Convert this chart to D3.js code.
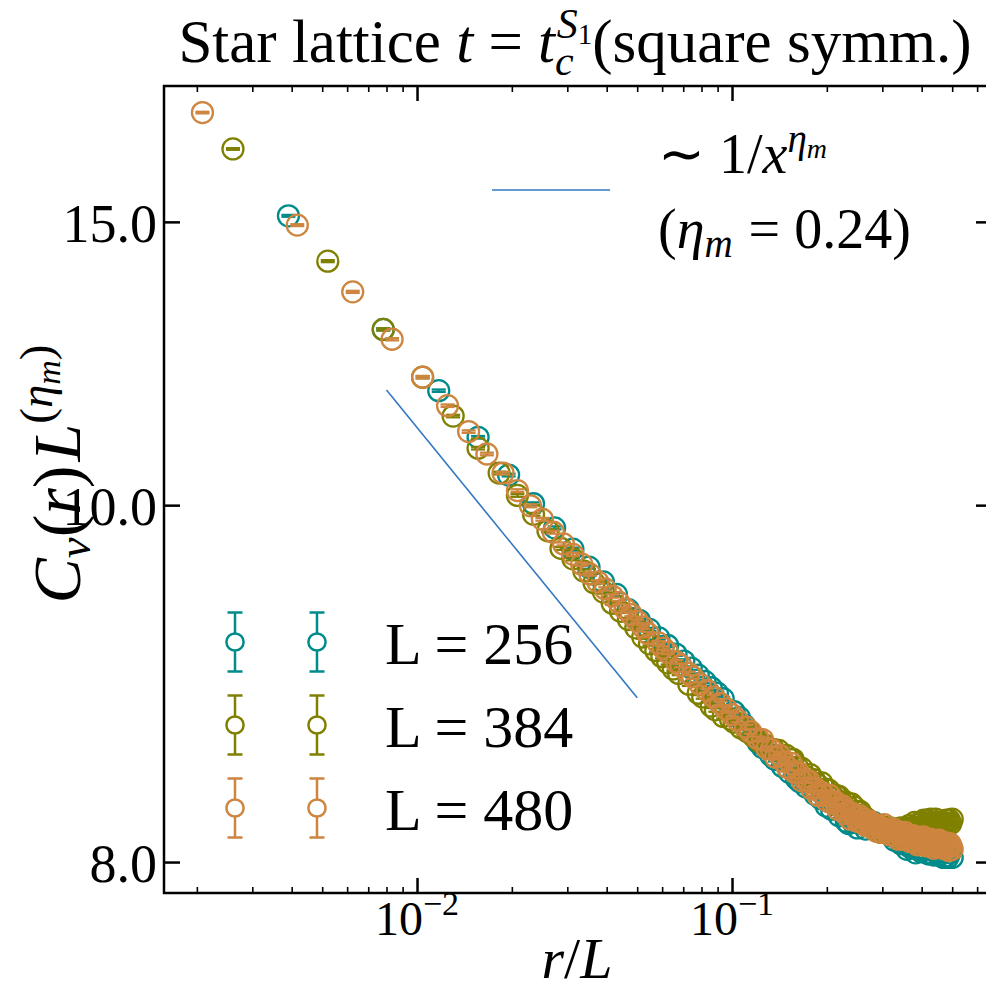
<!DOCTYPE html>
<html><head><meta charset="utf-8">
<script src="https://cdn.jsdelivr.net/npm/d3@7"></script>
<style>
body{margin:0;background:#fff}
svg{display:block}
text{font-family:'Liberation Serif','Times New Roman',serif;fill:#000}
</style>
</head><body>
<svg id="c" width="986" height="992"></svg>
<script>
// ---------------- data ----------------
const sizes = [256, 384, 480];
// L = 256 : distance r and C_v(r) L^eta
const r256 = [1,2,3,4,5,6,7,8,9,10,11,12,13,14,15,16,17,18,19,20,21,22,23,24,26,27,28,29,31,32,34,35,37,39,41,42,44,47,49,51,53,56,59]
  .concat(d3.range(60, 129, 2));
const y256 = [15.13,12.86,11.78,11.02,10.44,10.02,9.68,9.39,9.15,8.96,8.80,8.61,8.48,8.37,8.27,8.18,8.08,8.00,7.92,7.84,7.77,7.70,7.64,7.58,
  7.44,7.38,7.30,7.24,7.12,7.07,6.99,6.95,6.88,6.82,6.76,6.73,6.68,6.61,6.57,6.50,6.47,6.41,6.36,
  6.34,6.35,6.30,6.34,6.29,6.32,6.35,6.30,6.31,6.27,6.29,6.23,6.19,6.21,6.16,6.17,6.11,6.13,6.14,6.08,6.12,
  6.09,6.12,6.08,6.07,6.11,6.06,6.08,6.06,6.09,6.04,6.05,6.04,6.08,6.04];
// L = 384
const r384 = [1,2,3,4,5,6,7,8,9,10,11,12,13,14,15,16,17,18,19,20,21,22,23,24,25,26,28,30,31,33,34,36,38,39,41,43,45,47,49,52,54,57,59]
  .concat(d3.range(60, 193, 2));
const y384 = [16.65,14.18,12.86,12.01,11.36,10.85,10.47,10.14,9.87,9.64,9.40,9.26,9.10,8.95,8.83,8.69,8.59,8.49,8.39,8.28,
  8.20,8.12,8.05,7.98,7.91,7.86,7.74,7.64,7.60,7.50,7.46,7.39,7.36,7.33,7.27,7.23,7.18,7.13,7.09,7.05,7.04,6.99,6.95,
  6.95,6.87,6.86,6.78,6.80,6.75,6.70,6.72,6.66,6.65,6.60,6.60,6.59,6.53,6.54,6.49,6.52,6.49,6.45,6.45,6.40,
  6.39,6.33,6.34,6.34,6.29,6.31,6.26,6.31,6.28,6.25,6.30,6.25,6.26,6.25,6.28,6.30,6.27,6.29,6.25,6.32,
  6.30,6.29,6.35,6.30,6.34,6.31,6.35,6.37,6.34,6.37,6.32,6.38,6.35,6.32,6.38,6.33,6.35,6.35,6.32,6.35,
  6.34,6.37,6.34,6.37,6.34,6.38];
// L = 480
const r480 = [1,2,3,4,5,6,7,8,9,10,11,12,13,14,15,16,17,18,19,20,21,22,23,24,25,26,28,29,30,32,33,35,36,38,40,42,44,46,48,50,53,55,58]
  .concat(d3.range(60, 241, 2));
const y480 = [17.54,14.93,13.57,12.68,12.01,11.53,11.11,10.76,10.47,10.21,9.99,9.80,9.62,9.46,9.32,9.19,9.06,8.96,8.87,8.78,
  8.70,8.62,8.55,8.47,8.40,8.32,8.21,8.15,8.10,7.99,7.95,7.86,7.82,7.74,7.67,7.60,7.53,7.47,7.41,7.35,7.28,7.23,7.16,
  7.15,7.06,7.05,6.97,6.99,6.93,6.87,6.91,6.82,6.82,6.74,6.75,6.74,6.66,6.67,6.60,6.63,6.60,6.55,6.60,6.53,
  6.54,6.47,6.49,6.50,6.43,6.45,6.38,6.43,6.40,6.36,6.41,6.35,6.38,6.32,6.35,6.36,6.30,6.33,6.27,6.32,
  6.30,6.26,6.33,6.27,6.29,6.24,6.27,6.29,6.23,6.26,6.20,6.26,6.23,6.20,6.26,6.21,6.23,6.18,6.22,6.23,
  6.18,6.20,6.15,6.21,6.18,6.15,6.22,6.17,6.19,6.14,6.18,6.20,6.15,6.17,6.12,6.18,6.16,6.13,6.19,6.14,
  6.17,6.12,6.16,6.17,6.12,6.15,6.10,6.16,6.14,6.11];
const errHalf = [0.02, 0.02, 0.02];
const fitX = [0.008, 0.05];
const fitY = [11.79, 7.59];
const xTicks = [0.01, 0.1];
const xTickExp = ['\u22122', '\u22121'];
const yTickPos = [6, 10, 15];
const yTickLabels = ['8.0', '10.0', '15.0'];

// ---------------- layout ----------------
const colors = ['#008b8b', '#808000', '#cd853f'];
const fitColor = '#3477c2';
const M = {left:164, right:990, top:86, bottom:893};
const svg = d3.select('#c');
const x = d3.scaleLog().domain([0.001573, 0.6592]).range([M.left, M.right]);
const y = d3.scaleLog().domain([5.740, 18.22]).range([M.bottom, M.top]);

// fit line
svg.append('path')
  .datum(d3.zip(fitX, fitY))
  .attr('fill','none').attr('stroke',fitColor).attr('stroke-width',1.6)
  .attr('d', d3.line().x(d=>x(d[0])).y(d=>y(d[1])));

// series
const series = [
  {L:sizes[0], r:r256, v:y256},
  {L:sizes[1], r:r384, v:y384},
  {L:sizes[2], r:r480, v:y480}
];
const R = 10.5, CAP = 7, SW = 2.3;
series.forEach((s, si) => {
  const pts = s.r.map((r,i)=>({x:r/s.L, v:s.v[i]}));
  const g = svg.append('g').attr('stroke', colors[si]).attr('fill','none').attr('stroke-width', SW);
  pts.forEach(p => {
    const cx = x(p.x), y0 = y(p.v - errHalf[si]), y1 = y(p.v + errHalf[si]);
    g.append('line').attr('x1',cx).attr('x2',cx).attr('y1',y0).attr('y2',y1);
    g.append('line').attr('x1',cx-CAP).attr('x2',cx+CAP).attr('y1',y0).attr('y2',y0);
    g.append('line').attr('x1',cx-CAP).attr('x2',cx+CAP).attr('y1',y1).attr('y2',y1);
    g.append('circle').attr('cx',cx).attr('cy',y(p.v)).attr('r',R);
  });
});

// axes
const minorX = x.ticks().filter(t => !xTicks.some(m => Math.abs(m - t) / m < 1e-6));
function styleAxis(g, w){ g.select('.domain').remove(); g.selectAll('.tick line').attr('stroke','#000').attr('stroke-width',w); }
svg.append('g').attr('transform',`translate(0,${M.bottom})`)
  .call(d3.axisBottom(x).tickValues(xTicks).tickSizeInner(-15).tickSizeOuter(0).tickFormat(''))
  .call(g=>styleAxis(g,2.5));
svg.append('g').attr('transform',`translate(0,${M.bottom})`)
  .call(d3.axisBottom(x).tickValues(minorX).tickSizeInner(-6).tickSizeOuter(0).tickFormat(''))
  .call(g=>styleAxis(g,1.6));
svg.append('g').attr('transform',`translate(0,${M.top})`)
  .call(d3.axisTop(x).tickValues(xTicks).tickSizeInner(-15).tickSizeOuter(0).tickFormat(''))
  .call(g=>styleAxis(g,2.5));
svg.append('g').attr('transform',`translate(0,${M.top})`)
  .call(d3.axisTop(x).tickValues(minorX).tickSizeInner(-6).tickSizeOuter(0).tickFormat(''))
  .call(g=>styleAxis(g,1.6));
const yl = svg.append('g').attr('transform',`translate(${M.left},0)`)
  .call(d3.axisLeft(y).tickValues(yTickPos).tickSizeInner(-16).tickSizeOuter(0).tickPadding(7)
        .tickFormat((d,i)=>yTickLabels[i]))
  .call(g=>styleAxis(g,2.5));
yl.attr('font-family',null).attr('font-size',null);
yl.selectAll('.tick text').attr('font-size',54).attr('dy','0.36em').attr('fill','#000')
  .style('font-family',"'Liberation Serif',serif");
svg.append('g').attr('transform',`translate(${M.right},0)`)
  .call(d3.axisRight(y).tickValues(yTickPos).tickSizeInner(-14).tickSizeOuter(0).tickFormat(''))
  .call(g=>styleAxis(g,2.5));

// frame
svg.append('rect').attr('x',M.left).attr('y',M.top)
  .attr('width',M.right-M.left).attr('height',M.bottom-M.top)
  .attr('fill','none').attr('stroke','#000').attr('stroke-width',2.5);

// x tick labels 10^{-n}
xTicks.forEach((t,i)=>{
  const tx = svg.append('text').attr('x',x(t)).attr('y',935).attr('text-anchor','middle').attr('font-size',48);
  tx.append('tspan').text('10');
  tx.append('tspan').attr('font-size',34).attr('dy',-20).text(xTickExp[i]);
});

// x label
const xl = svg.append('text').attr('x',(M.left+M.right)/2).attr('y',978).attr('text-anchor','middle').attr('font-size',58);
xl.append('tspan').attr('font-style','italic').text('r');
xl.append('tspan').text('/');
xl.append('tspan').attr('font-style','italic').text('L');

// y label
const ylab = svg.append('text').attr('transform','translate(80,474) rotate(-90)').attr('text-anchor','middle').attr('font-size',68);
ylab.append('tspan').attr('font-style','italic').text('C');
ylab.append('tspan').attr('font-style','italic').attr('font-size',47).attr('dy',10).text('v');
ylab.append('tspan').attr('dy',-10).text('(');
ylab.append('tspan').attr('font-style','italic').text('r');
ylab.append('tspan').text(')');
ylab.append('tspan').attr('font-style','italic').attr('dx',4).text('L');
ylab.append('tspan').attr('font-size',47).attr('dy',-28).text('(');
ylab.append('tspan').attr('font-style','italic').attr('font-size',47).text('\u03b7');
ylab.append('tspan').attr('font-style','italic').attr('font-size',34).attr('dy',8).text('m');
ylab.append('tspan').attr('font-size',47).attr('dy',-8).text(')');

// title
const tt = svg.append('text').attr('x',575).attr('y',62).attr('text-anchor','middle').attr('font-size',61);
tt.append('tspan').text('Star lattice ');
tt.append('tspan').attr('font-style','italic').text('t');
tt.append('tspan').text(' = ');
tt.append('tspan').attr('font-style','italic').text('t');
tt.append('tspan').attr('font-style','italic').attr('font-size',42).attr('dy',13).text('c');
tt.append('tspan').attr('font-style','italic').attr('font-size',42).attr('dx',-17).attr('dy',-37).text('S');
tt.append('tspan').attr('font-size',29).attr('dy',6).text('1');
tt.append('tspan').attr('dy',18).text('(square symm.)');

// fit legend
svg.append('line').attr('x1',492).attr('x2',610).attr('y1',190).attr('y2',190)
  .attr('stroke',fitColor).attr('stroke-width',1.6);
const a1 = svg.append('text').attr('x',658).attr('y',173).attr('font-size',56);
a1.append('tspan').text('\u223c 1/');
a1.append('tspan').attr('font-style','italic').text('x');
a1.append('tspan').attr('font-style','italic').attr('font-size',39).attr('dy',-21).text('\u03b7');
a1.append('tspan').attr('font-style','italic').attr('font-size',28).attr('dy',6).text('m');
const a2 = svg.append('text').attr('x',658).attr('y',248).attr('font-size',56);
a2.append('tspan').text('(');
a2.append('tspan').attr('font-style','italic').text('\u03b7');
a2.append('tspan').attr('font-style','italic').attr('font-size',39).attr('dy',9).text('m');
a2.append('tspan').attr('dy',-9).attr('dx',16).text('= 0.24)');

// series legend
const legRows = [642, 725, 808];
sizes.forEach((L,i)=>{
  const cy = legRows[i];
  [235, 317].forEach(cx=>{
    const g = svg.append('g').attr('stroke',colors[i]).attr('fill','none').attr('stroke-width',2.5);
    g.append('line').attr('x1',cx).attr('x2',cx).attr('y1',cy-29.5).attr('y2',cy+29.5);
    g.append('line').attr('x1',cx-7.5).attr('x2',cx+7.5).attr('y1',cy-29.5).attr('y2',cy-29.5);
    g.append('line').attr('x1',cx-7.5).attr('x2',cx+7.5).attr('y1',cy+29.5).attr('y2',cy+29.5);
    g.append('circle').attr('cx',cx).attr('cy',cy).attr('r',8.6).attr('fill','#fff');
  });
  svg.append('text').attr('x',385).attr('y',cy+22).attr('font-size',60).text(`L = ${L}`);
});
</script>
</body></html>
